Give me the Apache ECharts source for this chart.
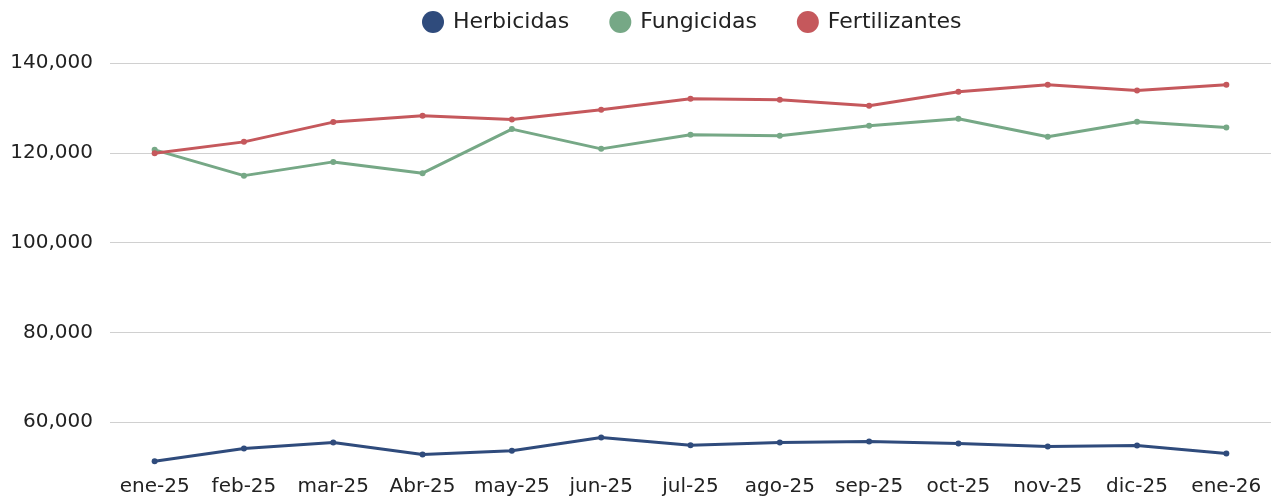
<!DOCTYPE html>
<html>
<head>
<meta charset="utf-8">
<script src="https://cdn.jsdelivr.net/npm/echarts@6/dist/echarts.min.js"></script>
<style>
  html, body { margin: 0; padding: 0; background: #fff; }
  #chart { width: 1271px; height: 498px; }
</style>
</head>
<body>
<div id="chart"></div>
<script>
// categorias (meses)
const months = ['ene-25', 'feb-25', 'mar-25', 'Abr-25', 'may-25', 'jun-25', 'jul-25',
  'ago-25', 'sep-25', 'oct-25', 'nov-25', 'dic-25', 'ene-26']

// series
const herbicidas = [51300, 54130, 55470, 52790, 53620, 56590, 54870, 55470, 55690, 55250, 54580, 54800, 53010]
const fungicidas = [120650, 114910, 117970, 115450, 125270, 120870, 124000, 123770, 126000, 127570, 123550, 126900, 125620]
const fertilizantes = [119900, 122430, 126830, 128240, 127410, 129580, 132030, 131810, 130470, 133590, 135160, 133880, 135160]

const seriesNames = ['Herbicidas', 'Fungicidas', 'Fertilizantes']
const colors = ['#2f4b7c', '#76a886', '#c5585c']

const font = '"DejaVu Sans", sans-serif'

const makeLine = (name, data) => ({
  name: name,
  type: 'line',
  data: data,
  symbol: 'circle',
  symbolSize: 6,
  lineStyle: { width: 3 },
  emphasis: { disabled: true }
})

const chart = echarts.init(document.getElementById('chart'))
chart.setOption({
  animation: false,
  color: colors,
  textStyle: { fontFamily: font },
  legend: {
    data: seriesNames,
    top: 6,
    left: 417,
    icon: 'circle',
    itemWidth: 22,
    itemHeight: 22,
    itemGap: 40,
    textStyle: { fontSize: 22, color: '#222', fontFamily: font, padding: [0, 0, 0, 4] }
  },
  grid: { left: 110, right: 0, top: 63, bottom: 31 },
  xAxis: {
    type: 'category',
    data: months,
    boundaryGap: true,
    axisLine: { show: false },
    axisTick: { show: false },
    axisLabel: { fontSize: 20, color: '#222', margin: 10, interval: 0, fontFamily: font }
  },
  yAxis: {
    type: 'value',
    min: 50000,
    max: 140000,
    interval: 10000,
    axisLine: { show: false },
    axisTick: { show: false },
    axisLabel: {
      fontSize: 20,
      color: '#222',
      margin: 17,
      fontFamily: font,
      // solo cada 20,000 desde 60,000
      formatter: (v) => ((v - 60000) % 20000 === 0 ? v.toLocaleString('en-US') : '')
    },
    splitLine: {
      show: true,
      lineStyle: { color: ['rgba(0,0,0,0)', '#d0d0d0'], width: 1.2 }
    }
  },
  series: [
    makeLine(seriesNames[0], herbicidas),
    makeLine(seriesNames[1], fungicidas),
    makeLine(seriesNames[2], fertilizantes)
  ]
})
</script>
</body>
</html>
